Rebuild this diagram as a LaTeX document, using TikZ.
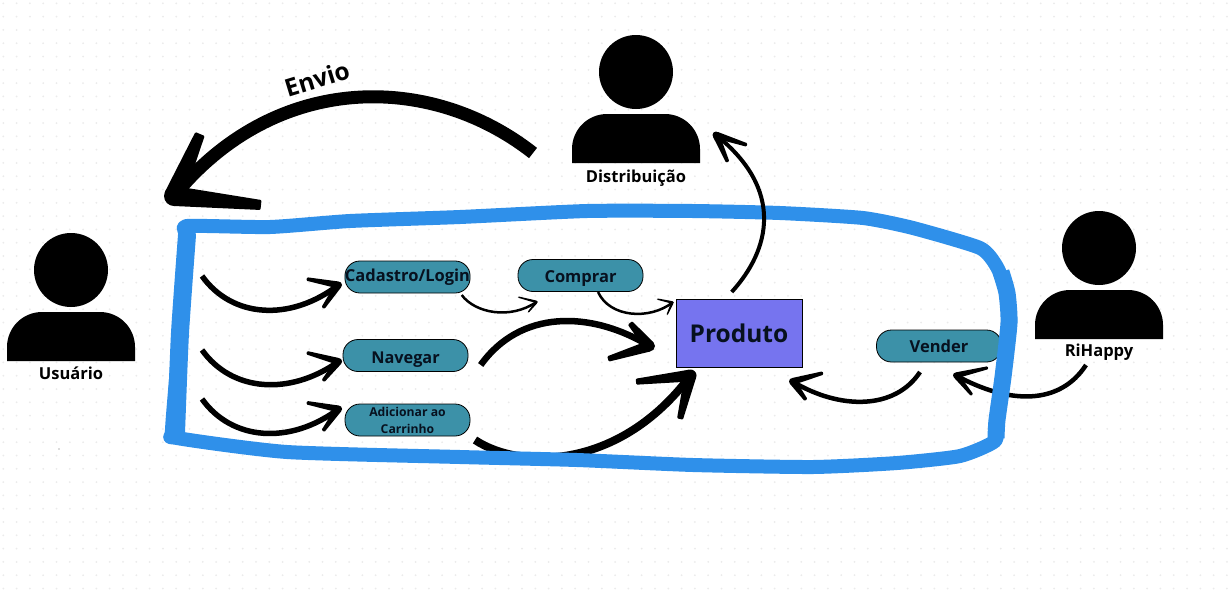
\documentclass[tikz,border=0pt]{standalone}
\usepackage{fontspec}
\setmainfont{Open Sans}
\usetikzlibrary{calc}
\definecolor{tealbox}{HTML}{3C91A8}
\definecolor{purplebox}{HTML}{7674EF}
\definecolor{blueband}{HTML}{2F90EA}
\definecolor{griddot}{HTML}{EBEBEB}
\definecolor{ink}{HTML}{07111F}
\tikzset{
  pill/.style={draw=black,line width=0.8pt,fill=tealbox,rounded corners=15pt,minimum width=125pt,minimum height=32pt,inner sep=0pt,align=center,text=ink,font=\bfseries},
  prod/.style={draw=black,line width=1pt,fill=purplebox,minimum width=126pt,minimum height=68pt,inner sep=0pt,text=ink,font=\bfseries\fontsize{24.5}{28}\selectfont},
  lbl/.style={inner sep=0pt,font=\bfseries\fontsize{16.5}{18}\selectfont},
  hand/.style={draw=black,line cap=butt},
  person/.style={fill=black,draw=none},
  band/.style={draw=blueband,line cap=round,line join=round}
}
% start, c1, c2, tip, width, barb1, barb2, head half-width
\newcommand\handbarb[3]{%
  \pgfmathsetmacro\hE{#3*0.5}%
  \fill[black,rounded corners=1pt] ($(#1)!#3pt!90:(#2)$) -- ($(#2)!\hE pt!-90:(#1)$) -- ($(#2)!\hE pt!90:(#1)$) -- ($(#1)!#3pt!-90:(#2)$) -- cycle;
}
\newcommand\handarrow[8]{%
  \draw[hand,line width=#5pt] #1 .. controls #2 and #3 .. #4;
  \coordinate (hT) at #4;
  \coordinate (hA) at #6;
  \coordinate (hB) at #7;
  \handbarb{hT}{hA}{#8}
  \handbarb{hT}{hB}{#8}
  \fill[black] (hT) circle (#8pt);
}
\newcommand\personicon[2]{%
  \fill[person] (#1,#2-42) circle (37pt);
  \fill[person] (#1-64,#2+49) -- (#1-64,#2+35) arc[start angle=180,end angle=90,radius=35pt] -- (#1+29,#2) arc[start angle=90,end angle=0,radius=35pt] -- (#1+64,#2+49) -- cycle;
}
\begin{document}
\begin{tikzpicture}[x=1pt,y=-1pt]
\useasboundingbox (0,0) rectangle (1229,595);
\fill[white] (0,0) rectangle (1229,595);
\foreach \i in {0,...,92} \foreach \j in {0,...,44}
  \fill[griddot] (3.3+\i*13.3,3.3+\j*13.3) circle (1pt);
\fill[black!60] (59,449) circle (0.6pt);

% people
\personicon{71}{312}
\personicon{636}{114}
\personicon{1099}{290}
\node[lbl] (usuario) at (71,373) {Usuário};
\node[lbl] (distrib) at (636,178) {Distribuição};
\node[lbl] (rihappy) at (1099,352) {RiHappy};

% black connectors under the band
\coordinate (adicStart) at (475,440);
\coordinate (riStart) at (1086,365);

% boxes
\node[pill,font=\bfseries\fontsize{16.5}{19}\selectfont] (cad) at (407.5,277) {Cadastro/Login};
\node[pill,font=\bfseries\fontsize{16.3}{19}\selectfont] (nav) at (405.5,355.5) {\raisebox{-7.5pt}[0pt][0pt]{Navegar}};
\node[pill,font=\bfseries\fontsize{12.2}{17}\selectfont] (adic) at (407.5,420) {Adicionar ao\\Carrinho};
\node[pill,font=\bfseries\fontsize{16.5}{18}\selectfont] (comp) at (580.5,275.5) {\raisebox{-6.5pt}[0pt][0pt]{Comprar}};
\node[pill,font=\bfseries\fontsize{16.5}{18}\selectfont] (vend) at (939,346) {\raisebox{-6pt}[0pt][0pt]{Vender}};
\node[prod] (produto) at (739,333) {Produto};

% arrows below the band
\handarrow{(adicStart)}{(520,470)}{(620,470)}{([shift={(15,8)}]produto.south west)}{8}{(636,381.7)}{(680,419)}{6}
\handarrow{(riStart)}{(1060,405)}{(1010,405)}{([shift={(17,13)}]vend.south)}{4.5}{(988,367.7)}{(972,395)}{3}

% blue band
\draw[band,line width=14pt]
  plot[smooth,tension=.35] coordinates {(188,235) (187,226) (270,227) (350,221) (460,217) (587,211) (693,211) (780,213) (863,218) (913,228) (980,248) (997,267) (1007,293) (1010,323) (1003,377) (997,420) (995,441) (960,456) (897,463) (813,467) (693,465) (577,460) (460,457) (287,452) (177,438) (172,430) (180,333) (188,235)};
\draw[band,line width=17pt,line cap=butt]
  plot[smooth,tension=.35] coordinates {(1001,272) (1007,293) (1009,323) (1003,377) (997,420) (996,438)};
\draw[band,line width=18pt]
  plot[smooth,tension=.35] coordinates {(176,433) (180,333) (187,235)};

% envio
\coordinate (envStart) at (533,153);
\handarrow{(envStart)}{(430,72)}{(275,72)}{(174,196)}{13}{(200,134)}{(261,205)}{10}
\node[rotate=17,inner sep=0pt,font=\bfseries\fontsize{24.5}{26}\selectfont] (envio) at (317,79) {Envio};

% left arrows
\coordinate (s1) at (202,276);
\coordinate (s2) at (202,350);
\coordinate (s3) at (202,399);
\handarrow{(s1)}{(232,318)}{(290,322)}{([shift={(-6,8)}]cad.west)}{5.5}{(306.7,279)}{(323,308)}{3.5}
\handarrow{(s2)}{(232,392)}{(290,396)}{([shift={(-4,6)}]nav.west)}{5.5}{(306.7,352.7)}{(323,381)}{3.5}
\handarrow{(s3)}{(232,441)}{(290,445)}{([shift={(-6,-11)}]adic.west)}{5.5}{(306.7,402.7)}{(323,431)}{3.5}

% other arrows
\coordinate (cadOut) at (461.7,295);
\coordinate (compOut) at (598,292);
\coordinate (navOut) at (480.7,365);
\coordinate (prodOut) at (731.7,292);
\coordinate (vendOut) at (920,372);
\coordinate (distIn) at (716,135);
\handarrow{(cadOut)}{(475,313)}{(510,320)}{([shift={(19,10)}]comp.south west)}{2.5}{(518,297)}{(528,312.5)}{1.3}
\handarrow{(compOut)}{(610,318)}{(650,320)}{([shift={(-3,4)}]produto.north west)}{2.5}{(657,299)}{(667,315)}{1.3}
\handarrow{(navOut)}{(520,310)}{(590,310)}{([shift={(-26,13)}]produto.west)}{6.5}{(630,323)}{(608,359)}{5.5}
\handarrow{(prodOut)}{(770,250)}{(785,190)}{(distIn)}{4}{(747,145)}{(727.7,162)}{3.5}
\handarrow{(vendOut)}{(895,410)}{(840,410)}{([shift={(-10,14)}]produto.south east)}{4.5}{(823,373)}{(806,400)}{3.5}
\end{tikzpicture}
\end{document}
